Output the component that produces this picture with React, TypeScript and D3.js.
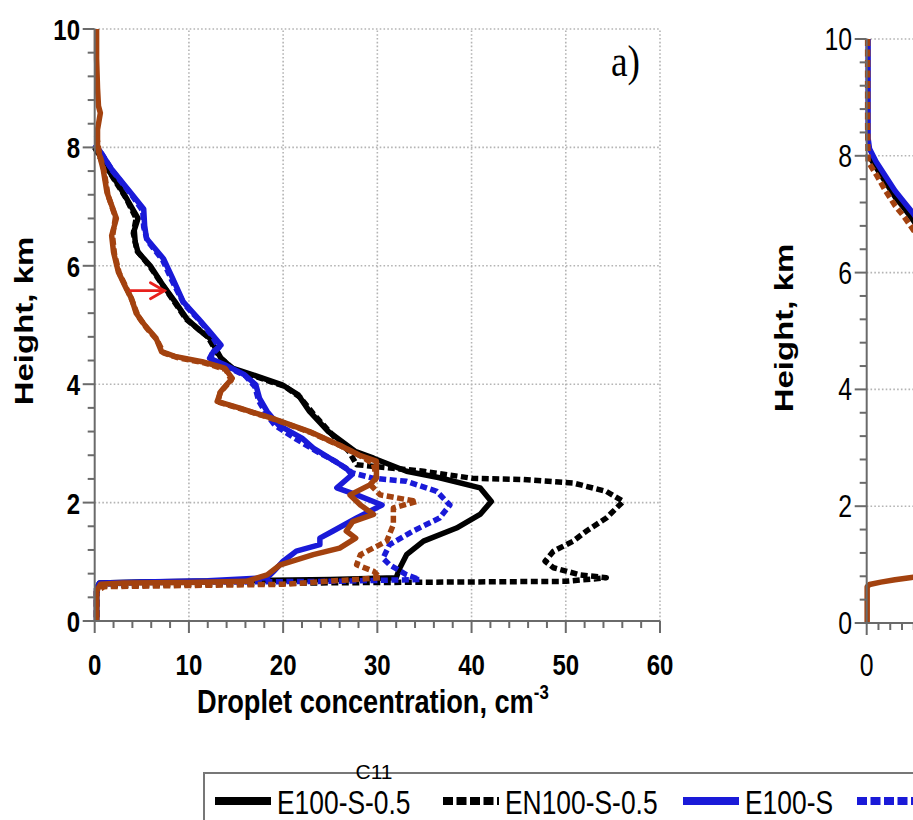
import React from 'react';
import * as d3 from 'd3';

type P = [number, number]; // [droplet concentration cm^-3, height km]

const FONT = "'Liberation Sans', Arial, Helvetica, sans-serif";
const SX = 0.8; // horizontal squeeze of the source figure

const xTicksLeft = [0, 10, 20, 30, 40, 50, 60];
const yTicks = [0, 2, 4, 6, 8, 10];
const xTicksRight = [0];
const legendTitle = 'C11';
const legendLabels = ['E100-S-0.5', 'EN100-S-0.5', 'E100-S', ''];
const legendColors = ['#000000', '#000000', '#1a1ad8', '#1a1ad8'];
const legendDashed = [false, true, false, true];

// ---- panel a) series ----
const e100s05: P[] = [
  [0, 8.0], [0.6, 7.85], [1.6, 7.58], [2.6, 7.35], [3.4, 7.13], [4.6, 6.8], [4.2, 6.6], [4.3, 6.4],
  [4.6, 6.23], [5.9, 6.0], [7.3, 5.66], [8.5, 5.4], [9.8, 5.1], [11.2, 4.9], [12.2, 4.78], [13.4, 4.44],
  [14.6, 4.27], [17.9, 4.1], [19.9, 3.99], [21.6, 3.82], [22.8, 3.54], [24.8, 3.2], [27.7, 2.86],
  [29.6, 2.75], [33.1, 2.53], [36.6, 2.42], [40.9, 2.25], [42.1, 2.02], [40.9, 1.8], [38.4, 1.57],
  [34.9, 1.35], [33.1, 1.12], [32.4, 0.9], [32.0, 0.73], [25, 0.7], [15, 0.68], [5, 0.66],
  [0.5, 0.64], [0.2, 0.55], [0.2, 0],
];
const en100s05: P[] = [
  [0, 8.0], [0.5, 7.85], [1.5, 7.6], [3.3, 7.15], [4.4, 6.8], [4.1, 6.55], [4.5, 6.25], [5.8, 6.0],
  [7.2, 5.68], [9.7, 5.1], [12.0, 4.8], [13.3, 4.45], [14.8, 4.25], [18, 4.08], [20.2, 3.96],
  [21.8, 3.78], [23.2, 3.5], [25.2, 3.15], [27.0, 2.86], [27.8, 2.64], [34.9, 2.53], [40.1, 2.41],
  [45.5, 2.39], [50.8, 2.33], [54.3, 2.19], [56.1, 2.02], [54.3, 1.74], [52.2, 1.52], [50.8, 1.35],
  [48.7, 1.18], [47.8, 1.01], [48.7, 0.9], [51.5, 0.78], [54.3, 0.73], [50, 0.67], [40, 0.66],
  [30, 0.65], [20, 0.64], [10, 0.62], [1, 0.6], [0.2, 0.5], [0.2, 0],
];
const e100s: P[] = [
  [0, 8.05], [0.5, 7.95], [1.8, 7.63], [3.8, 7.24], [5.2, 6.96], [5.3, 6.68], [5.5, 6.46], [7.3, 6.12],
  [8.3, 5.78], [9.4, 5.39], [11, 5.11], [12.2, 4.89], [13.4, 4.66], [12.6, 4.55], [12.2, 4.44],
  [13.8, 4.33], [15.9, 4.16], [17.1, 3.99], [17.5, 3.76], [18.3, 3.54], [19.5, 3.31], [22, 3.09],
  [23.2, 2.92], [26.7, 2.58], [27.3, 2.47], [25.7, 2.25], [27.8, 2.13], [30.5, 1.96], [27.8, 1.74],
  [25.3, 1.52], [23.9, 1.4], [23.9, 1.29], [21.4, 1.18], [20, 1.01], [19, 0.84], [18.3, 0.73],
  [12, 0.68], [5, 0.66], [0.5, 0.64], [0.2, 0.55], [0.2, 0],
];
const en100s: P[] = [
  [0, 8.05], [0.6, 7.93], [1.9, 7.6], [3.9, 7.2], [5.1, 6.93], [5.2, 6.65], [5.6, 6.42], [7.2, 6.1],
  [8.2, 5.75], [9.5, 5.35], [11.1, 5.08], [12.3, 4.85], [13.2, 4.62], [12.4, 4.5], [12.4, 4.4],
  [14, 4.3], [16, 4.14], [17, 3.96], [17.4, 3.72], [18.2, 3.5], [19.1, 3.31], [21.2, 3.09],
  [23.6, 2.86], [25.5, 2.7], [27.4, 2.5], [29.6, 2.41], [33.1, 2.36], [36.3, 2.19], [37.7, 1.96],
  [36.6, 1.74], [33.8, 1.52], [31.3, 1.29], [30.6, 1.06], [31.3, 0.95], [33.1, 0.78], [34.5, 0.7],
  [25, 0.67], [15, 0.66], [5, 0.65], [0.5, 0.62], [0.2, 0.5], [0.2, 0],
];
const brownSolid: P[] = [
  [0.2, 10], [0.2, 9.5], [0.3, 9.0], [0.4, 8.7], [0.6, 8.58], [0.3, 8.3], [0.3, 8.0], [0.9, 7.63],
  [1.3, 7.24], [2.3, 6.8], [1.8, 6.51], [2.0, 6.23], [2.5, 5.9], [3.4, 5.6], [3.9, 5.45], [4.4, 5.2],
  [5.3, 5.0], [6.5, 4.78], [7.1, 4.55], [8.5, 4.47], [11.4, 4.38], [13.8, 4.27], [14.6, 4.1],
  [13.4, 3.88], [13, 3.71], [15.5, 3.59], [18.7, 3.43], [22.8, 3.2], [26, 2.97], [28.1, 2.8],
  [29.9, 2.7], [29.9, 2.42], [29.2, 2.3], [27.1, 2.13], [28.2, 1.96], [29.6, 1.8], [27.4, 1.68],
  [26.7, 1.52], [27.7, 1.4], [26, 1.23], [23.2, 1.12], [19.7, 0.95], [18.3, 0.78], [16.1, 0.67],
  [10, 0.65], [3, 0.64], [0.6, 0.62], [0.2, 0.5], [0.2, 0],
];
const brownDashed: P[] = [
  [0.2, 8.2], [0.5, 7.9], [1.0, 7.6], [1.4, 7.2], [2.2, 6.82], [1.9, 6.5], [2.1, 6.2], [2.6, 5.88],
  [3.5, 5.58], [4.0, 5.4], [4.6, 5.15], [5.5, 4.95], [6.6, 4.75], [7.3, 4.53], [8.8, 4.45],
  [11.6, 4.36], [13.9, 4.25], [14.5, 4.07], [13.3, 3.86], [13.1, 3.7], [15.8, 3.57], [19, 3.41],
  [23, 3.18], [26.2, 2.95], [28.3, 2.78], [29.6, 2.65], [29.9, 2.42], [29.4, 2.28], [30.3, 2.13],
  [34.2, 2.02], [31.7, 1.91], [31.7, 1.63], [31.0, 1.35], [28.2, 1.12], [27.8, 0.95], [29.6, 0.84],
  [30.3, 0.73], [20, 0.62], [10, 0.6], [1, 0.58], [0.2, 0.5], [0.2, 0],
];
const arrowPts: P[] = [[3.8, 5.58], [7.4, 5.58]];

// ---- second panel (only its left edge is visible) ----
const rBlue: P[] = [[0.3, 10], [0.3, 8.3], [0.6, 8.12], [2, 7.9], [4, 7.65], [6, 7.4], [8, 7.2], [10, 7.0], [12, 6.75]];
const rBlack: P[] = [[0.5, 8.0], [2, 7.8], [4, 7.55], [6, 7.3], [8, 7.1], [10, 6.88], [12, 6.65]];
const rBrown: P[] = [[0.2, 10], [0.2, 8.5], [0.3, 7.9], [2, 7.68], [4, 7.4], [6, 7.15], [8, 6.95], [10, 6.72], [12, 6.5]];
const rBrownLow: P[] = [[0.1, 0], [0.1, 0.62], [0.6, 0.66], [3, 0.7], [6, 0.74], [9.5, 0.78], [12, 0.8]];

const BLACK = '#000000';
const BLUE = '#1a1ad8';
const BROWN = '#a3420f';

const T = ({ x, y, children, anchor = 'middle', size = 30, weight = 'bold', family = FONT, sx = SX, rotate = 0, fill = '#000' }: any) => (
  <text
    transform={`translate(${x},${y}) scale(${sx},1)${rotate ? ` rotate(${rotate})` : ''}`}
    textAnchor={anchor}
    fontSize={size}
    fontWeight={weight}
    fontFamily={family}
    fill={fill}
  >
    {children}
  </text>
);

export default function App() {
  const xL = d3.scaleLinear().domain([0, 60]).range([94.7, 660]);
  const yL = d3.scaleLinear().domain([0, 10]).range([621, 29]);
  const xR = d3.scaleLinear().domain([0, 120]).range([866.7, 866.7 + 565]);
  const yR = d3.scaleLinear().domain([0, 10]).range([623, 39]);

  const lineL = d3.line<P>().x((d) => xL(d[0])).y((d) => yL(d[1]));
  const lineR = d3.line<P>().x((d) => xR(d[0])).y((d) => yR(d[1]));

  const gridCol = '#b4b4b4';
  const axisCol = '#6a6a6a';
  const dash = '7 3.5';
  const lw = 5.5;

  const seriesL: { d: P[]; c: string; dashed: boolean }[] = [
    { d: e100s05, c: BLACK, dashed: false },
    { d: en100s05, c: BLACK, dashed: true },
    { d: e100s, c: BLUE, dashed: false },
    { d: en100s, c: BLUE, dashed: true },
    { d: brownSolid, c: BROWN, dashed: false },
    { d: brownDashed, c: BROWN, dashed: true },
  ];
  const seriesR: { d: P[]; c: string; dashed: boolean }[] = [
    { d: rBlack, c: BLACK, dashed: false },
    { d: rBlue, c: BLUE, dashed: false },
    { d: rBrown, c: BROWN, dashed: true },
    { d: rBrownLow, c: BROWN, dashed: false },
  ];

  const yMinor = d3.range(0, 26).map((i) => ({ v: i * 0.4, major: i % 5 === 0 }));
  const xMinorL = d3.range(0, 31).map((i) => ({ v: i * 2, major: i % 5 === 0 }));
  const xMinorR = d3.range(0, 49).map((i) => ({ v: i * 2.5, major: i % 8 === 0 }));

  const a0 = [xL(arrowPts[0][0]), yL(arrowPts[0][1])];
  const a1 = [xL(arrowPts[1][0]), yL(arrowPts[1][1])];

  const legX = [215, 443, 683, 857];
  const legY = 801;

  return (
    <svg width={913} height={820} style={{ position: 'absolute', left: 0, top: 0, background: '#fff' }}>
      <rect x={0} y={0} width={913} height={820} fill="#fff" />

      {/* ---------- panel a) ---------- */}
      <g>
        {xTicksLeft.filter((v) => v > 0).map((v) => (
          <line key={'gx' + v} x1={xL(v)} x2={xL(v)} y1={yL(0)} y2={yL(10)} stroke={gridCol} strokeWidth={1.6} strokeDasharray="1.6 2.2" />
        ))}
        {yTicks.filter((v) => v > 0).map((v) => (
          <line key={'gy' + v} x1={xL(0)} x2={xL(60)} y1={yL(v)} y2={yL(v)} stroke={gridCol} strokeWidth={1.6} strokeDasharray="1.6 2.2" />
        ))}

        {seriesL.map((s, i) => (
          <path key={'s' + i} d={lineL(s.d) || ''} fill="none" stroke={s.c} strokeWidth={lw}
            strokeDasharray={s.dashed ? dash : undefined} strokeLinejoin="round" />
        ))}

        {/* red arrow */}
        <g stroke="#e8201c" strokeWidth={2.8} fill="none" strokeLinecap="round">
          <line x1={a0[0]} y1={a0[1]} x2={a1[0]} y2={a1[1]} />
          <polyline points={`${a1[0] - 14},${a1[1] - 8} ${a1[0]},${a1[1]} ${a1[0] - 14},${a1[1] + 8}`} />
        </g>

        {/* axes */}
        <line x1={xL(0)} x2={xL(0)} y1={yL(0)} y2={yL(10)} stroke={axisCol} strokeWidth={2} />
        <line x1={xL(0)} x2={xL(60)} y1={yL(0)} y2={yL(0)} stroke={axisCol} strokeWidth={2} />
        {yMinor.map((t, i) => (
          <line key={'ty' + i} x1={xL(0) - (t.major ? 12 : 7)} x2={xL(0)} y1={yL(t.v)} y2={yL(t.v)} stroke={axisCol} strokeWidth={2} />
        ))}
        {xMinorL.map((t, i) => (
          <line key={'tx' + i} x1={xL(t.v)} x2={xL(t.v)} y1={yL(0)} y2={yL(0) + (t.major ? 12 : 7)} stroke={axisCol} strokeWidth={2} />
        ))}
        {yTicks.map((v) => (
          <T key={'ly' + v} x={80} y={yL(v) + 11} anchor="end" size={30}>{v}</T>
        ))}
        {xTicksLeft.map((v) => (
          <T key={'lx' + v} x={xL(v)} y={675} size={30}>{v}</T>
        ))}
        <T x={33} y={321} size={33} rotate={-90}>Height, km</T>
        <text transform={`translate(197,713) scale(${SX},1)`} fontSize={34} fontWeight="bold" fontFamily={FONT}>
          Droplet concentration, cm
          <tspan fontSize={21} dy={-14}>-3</tspan>
        </text>
        <T x={611} y={76} anchor="start" size={44} weight="normal" family="'Liberation Serif', 'Times New Roman', serif" sx={0.85}>a)</T>
      </g>

      {/* ---------- second panel (cut off) ---------- */}
      <g>
        {yTicks.filter((v) => v > 0).map((v) => (
          <line key={'rgy' + v} x1={xR(0)} x2={xR(120)} y1={yR(v)} y2={yR(v)} stroke={gridCol} strokeWidth={1.6} strokeDasharray="1.6 2.2" />
        ))}
        {seriesR.map((s, i) => (
          <path key={'r' + i} d={lineR(s.d) || ''} fill="none" stroke={s.c} strokeWidth={lw}
            strokeDasharray={s.dashed ? dash : undefined} strokeLinejoin="round" />
        ))}
        <line x1={xR(0)} x2={xR(0)} y1={yR(0)} y2={yR(10)} stroke={axisCol} strokeWidth={2} />
        <line x1={xR(0)} x2={xR(120)} y1={yR(0)} y2={yR(0)} stroke={axisCol} strokeWidth={2} />
        {yMinor.map((t, i) => (
          <line key={'rty' + i} x1={xR(0) - (t.major ? 12 : 7)} x2={xR(0)} y1={yR(t.v)} y2={yR(t.v)} stroke={axisCol} strokeWidth={2} />
        ))}
        {xMinorR.map((t, i) => (
          <line key={'rtx' + i} x1={xR(t.v)} x2={xR(t.v)} y1={yR(0)} y2={yR(0) + (t.major ? 12 : 7)} stroke={axisCol} strokeWidth={2} />
        ))}
        {yTicks.map((v) => (
          <T key={'rly' + v} x={852} y={yR(v) + 11} anchor="end" size={31} weight="normal">{v}</T>
        ))}
        {xTicksRight.map((v) => (
          <T key={'rlx' + v} x={xR(v)} y={676} size={31} weight="normal">{v}</T>
        ))}
        <T x={793} y={328} size={33} rotate={-90}>Height, km</T>
      </g>

      {/* ---------- legend ---------- */}
      <g>
        <rect x={204} y={773} width={760} height={90} fill="#fff" stroke="#777" strokeWidth={2} />
        <text x={374} y={779} textAnchor="middle" fontSize={21} fontFamily={FONT}>{legendTitle}</text>
        {legendLabels.map((lab, i) => (
          <g key={'lg' + i}>
            <line x1={legX[i]} x2={legX[i] + 56} y1={legY} y2={legY} stroke={legendColors[i]} strokeWidth={8}
              strokeDasharray={legendDashed[i] ? '10 3.5' : undefined} />
            {lab ? <T x={legX[i] + 62} y={814} anchor="start" size={33} weight="normal">{lab}</T> : null}
          </g>
        ))}
      </g>
    </svg>
  );
}
